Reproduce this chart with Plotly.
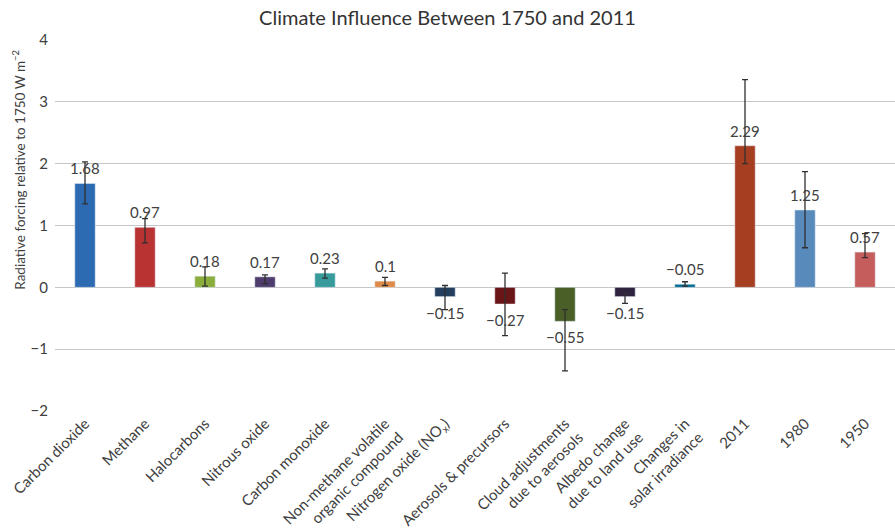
import plotly.graph_objects as go

categories = [
    "Carbon dioxide", "Methane", "Halocarbons", "Nitrous oxide", "Carbon monoxide",
    "Non-methane volatile<br>organic compound", "Nitrogen oxide (NO<sub>x</sub>)",
    "Aerosols & precursors", "Cloud adjustments<br>due to aerosols",
    "Albedo change<br>due to land use", "Changes in<br>solar irradiance",
    "2011", "1980", "1950",
]
values = [1.68, 0.97, 0.18, 0.17, 0.23, 0.10, -0.15, -0.27, -0.55, -0.15, 0.05, 2.29, 1.25, 0.57]
labels = ["1.68", "0.97", "0.18", "0.17", "0.23", "0.1", "\u22120.15", "\u22120.27",
          "\u22120.55", "\u22120.15", "\u22120.05", "2.29", "1.25", "0.57"]
upper = [2.03, 1.11, 0.33, 0.20, 0.30, 0.16, 0.03, 0.23, -0.36, -0.10, 0.09, 3.36, 1.87, 0.87]
lower = [1.35, 0.72, 0.02, 0.06, 0.15, 0.03, -0.36, -0.78, -1.35, -0.26, 0.02, 2.00, 0.64, 0.48]

colors = ["#2c6bb2", "#b93333", "#8aad3b", "#4e3c6c", "#389b9b", "#df8a46", "#243f5e",
          "#6a1517", "#4a5f28", "#302340", "#046b93", "#a63e22", "#588abc", "#c45d5b"]

err_plus = [u - v for u, v in zip(upper, values)]
err_minus = [v - l for v, l in zip(values, lower)]
xs = list(range(len(categories)))

bars = go.Bar(
    x=xs,
    y=values,
    marker_color=colors,
    hoverinfo="y",
)

# error bars in their own trace so they sit over the value labels
errors = go.Scatter(
    x=xs,
    y=values,
    mode="markers",
    marker=dict(size=1, opacity=0),
    error_y=dict(type="data", symmetric=False, array=err_plus, arrayminus=err_minus,
                 color="#303030", thickness=1.3, width=3),
    hoverinfo="skip",
)

fig = go.Figure(data=[bars, errors])

annots = []
for x, v, t in zip(xs, values, labels):
    annots.append(dict(
        x=x, y=v, text=t, showarrow=False,
        yanchor="bottom" if v > 0 else "top",
        yshift=4 if v > 0 else -5,
        font=dict(size=15, color="#404040"),
    ))
annots.append(dict(
    text="Radiative forcing relative to 1750 W m<sup>\u22122</sup>",
    xref="paper", yref="paper", x=-0.043, y=0.65, xanchor="center",
    yanchor="middle", textangle=-90, showarrow=False,
    font=dict(size=13.5, color="#404040"),
))

fig.update_layout(
    width=895, height=529,
    margin=dict(l=55, r=0, t=40, b=118),
    paper_bgcolor="white", plot_bgcolor="white",
    font=dict(family="Lato", color="#404040"),
    title=dict(text="Climate Influence Between 1750 and 2011", x=0.5, xanchor="center",
               y=0.966, yanchor="middle", font=dict(size=20, color="#333333")),
    bargap=0.66,
    showlegend=False,
    xaxis=dict(tickmode="array", tickvals=xs, ticktext=categories,
               tickangle=-45, tickfont=dict(size=15), showgrid=False, showline=False,
               range=[-0.5, len(categories) - 0.5], automargin=False),
    yaxis=dict(range=[-2, 4], dtick=1, gridcolor="#c6c6c6", gridwidth=1.3,
               zeroline=True, zerolinecolor="#c6c6c6", zerolinewidth=1.3,
               tickfont=dict(size=15), ticks="", ticklabelstandoff=6, automargin=False),
    annotations=annots,
)

# the page's default body margin would push the chart 8px down and right
fig.write_html("out.html", config={"displayModeBar": False},
               post_script="document.body.style.margin='0';")
